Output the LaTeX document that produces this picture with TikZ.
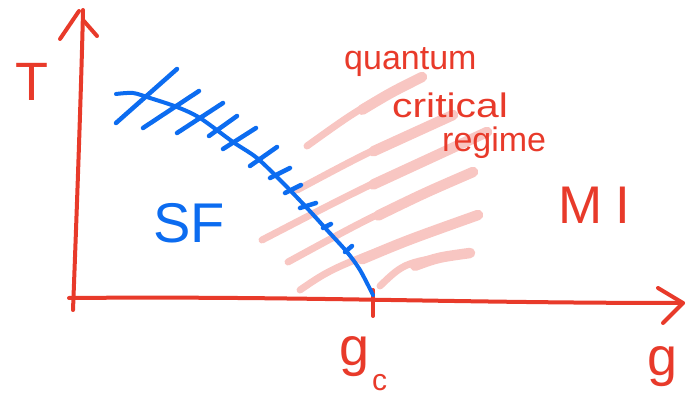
\documentclass[tikz,border=0pt]{standalone}
\usepackage{fontspec}
\setmainfont{Liberation Sans}
\definecolor{hred}{RGB}{232,58,42}
\definecolor{hblue}{RGB}{12,108,240}
\definecolor{hpink}{RGB}{248,198,194}
\begin{document}
\begin{tikzpicture}[x=1pt,y=-1pt,
  redline/.style={draw=hred,line width=4pt,line cap=round,line join=round},
  blueline/.style={draw=hblue,line width=4pt,line cap=round,line join=round},
  hatchline/.style={draw=hblue,line width=4.5pt,line cap=round},
  pinkline/.style={draw=hpink,line width=7pt,line cap=round},
  pinkend/.style={draw=hpink,line width=10.5pt,line cap=round},
  redtext/.style={text=hred,inner sep=0pt},
  bluetext/.style={text=hblue,inner sep=0pt}]
\useasboundingbox (0,0) rectangle (686,409);

% pink quantum critical strokes
\foreach \sx/\sy/\cx/\cy/\ex/\ey in {
  307/146/360/108/422/77,
  297/190/372/150/453/115,
  262/240/372/183/487/132,
  288/262/376/214/473/172,
  300/290/335/266/478/215,
  380/286/405/262/470/253}{
  \draw[pinkline] (\sx,\sy) .. controls (\cx,\cy) .. (\ex,\ey);
  \draw[pinkend] ({0.25*\sx+0.5*\cx+0.25*\ex},{0.25*\sy+0.5*\cy+0.25*\ey})
     .. controls ({0.5*\cx+0.5*\ex},{0.5*\cy+0.5*\ey}) .. (\ex,\ey);
}

% axes
\coordinate (yb) at (73,310);
\coordinate (yt) at (83,10);
\draw[redline] (yb) .. controls (78,180) and (82,60) .. (yt);
\draw[redline] (60,39) -- (79,11);
\draw[redline] (83,20) -- (97,36);
\coordinate (xl) at (69,298);
\coordinate (xr) at (683,303);
\draw[redline] (xl) .. controls (300,296) and (450,303) .. (xr);
\draw[redline] (658,288) -- (xr) -- (663,323);
\coordinate (gct) at (373,290);
\coordinate (gcb) at (373,316);
\draw[redline] (gct) -- (gcb);

% phase boundary
\draw[blueline] plot[smooth,tension=0.5] coordinates {
  (116,94) (133,93) (150,98) (177,107) (200,118) (233,142) (257,158)
  (283,183) (307,208) (327,230) (347,252) (360,270) (373,295)};
% hatches
\foreach \ax/\ay/\bx/\by in {
  116/123/177/69, 143/128/199/91, 177/133/223/103, 209/136/237/116,
  223/149/256/128, 250/166/277/147, 270/178/290/168, 285/193/301/185,
  300/208/316/203, 323/228/331/224, 345/252/352/246}{
  \draw[hatchline] (\ax,\ay) -- (\bx,\by);
}

% labels
\node[redtext,anchor=base] (T) at (32,101) {\fontsize{54}{54}\selectfont T};
\node[bluetext,anchor=base west] (SF) at (153,243) {\fontsize{56}{56}\selectfont SF};
\node[redtext,anchor=base west] (MI) at (558,223) {\fontsize{53}{53}\selectfont\addfontfeature{LetterSpace=25}MI};
\node[redtext,anchor=base west] (q) at (344,70) {\fontsize{34}{34}\selectfont quantum};
\node[redtext,anchor=base west,xscale=1.2] (c) at (392,118) {\fontsize{34}{34}\selectfont critical};
\node[redtext,anchor=base west] (r) at (442,152) {\fontsize{34}{34}\selectfont regime};
\node[redtext,anchor=base west] (gc) at (339,365) {\fontsize{54}{54}\selectfont g\kern3pt\raisebox{-25pt}{\fontsize{30}{30}\selectfont c}};
\node[redtext,anchor=base west] (g) at (647,375) {\fontsize{54}{54}\selectfont g};
\end{tikzpicture}
\end{document}
